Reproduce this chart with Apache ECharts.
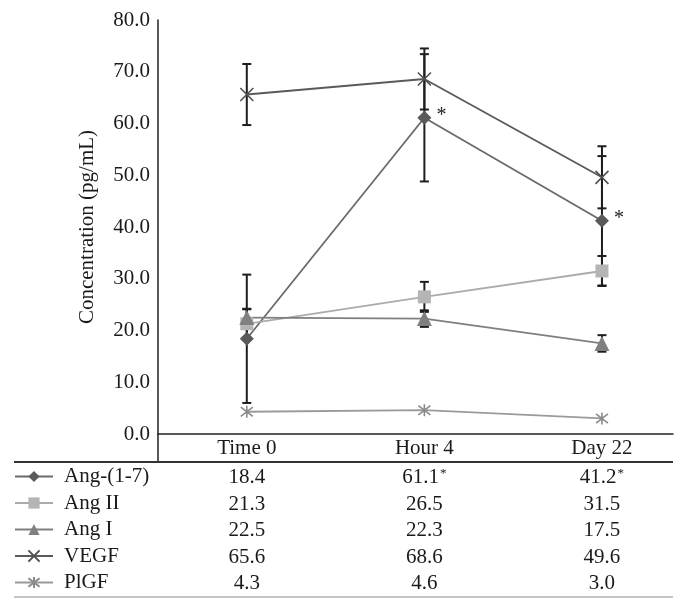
<!DOCTYPE html>
<html>
<head>
<meta charset="utf-8">
<style>
  html, body { margin: 0; padding: 0; background: #fff; }
  #chart { width: 687px; height: 611px; }
</style>
<script src="https://cdn.jsdelivr.net/npm/echarts@6/dist/echarts.min.js"></script>
</head>
<body>
<div id="chart"></div>
<script>
// 数据
const categories = ['Time 0', 'Hour 4', 'Day 22'];
const seriesNames = ['Ang-(1-7)', 'Ang II', 'Ang I', 'VEGF', 'PlGF'];
const angOneSeven = [18.4, 61.1, 41.2];
const angTwo = [21.3, 26.5, 31.5];
const angOne = [22.5, 22.3, 17.5];
const vegf = [65.6, 68.6, 49.6];
const plgf = [4.3, 4.6, 3.0];
// 误差
const angOneSevenErr = [12.4, 12.3, 12.5];
const angTwoErr = [2.9, 2.9, 2.9];
const angOneErr = [1.6, 1.6, 1.6];
const vegfErr = [5.9, 5.9, 6.0];
const plgfErr = [0, 0, 0];
// 显著性标记
const significant = [false, true, true];
const yTicks = [0, 10, 20, 30, 40, 50, 60, 70, 80];

const font = "'Liberation Serif', 'DejaVu Serif', serif";
const fontSize = 21;
const textColor = '#1a1a1a';

const allValues = [angOneSeven, angTwo, angOne, vegf, plgf];
const allErrors = [angOneSevenErr, angTwoErr, angOneErr, vegfErr, plgfErr];

const styles = [
  { symbol: 'diamond', size: 14, color: '#5a5a5a', line: '#6a6a6a' },
  { symbol: 'rect', size: 13, color: '#b5b5b5', line: '#ababab' },
  { symbol: 'triangle', size: 15, color: '#808080', line: '#7f7f7f' },
  { symbol: 'path://M0,0L10,10M10,0L0,10', size: 13, color: '#505050', line: '#5a5a5a' },
  { symbol: 'path://M0,0L10,10M10,0L0,10M5,-1.5L5,11.5', size: 12, color: '#8a8a8a', line: '#9a9a9a' }
];

const myChart = echarts.init(document.getElementById('chart'));

// 折线系列
const lineSeries = seriesNames.map(function (name, k) {
  const st = styles[k];
  const s = {
    name: name,
    type: 'line',
    xAxisIndex: 0,
    yAxisIndex: 0,
    z: 3,
    symbol: st.symbol,
    symbolSize: st.size,
    itemStyle: { color: st.color, borderColor: st.color, borderWidth: k >= 3 ? 1.6 : 0 },
    lineStyle: { color: st.line, width: 1.8 },
    data: allValues[k].map(function (v, i) { return [i, v]; })
  };
  if (k === 0) {
    s.label = {
      show: true,
      position: 'right',
      distance: 5,
      offset: [0, -2],
      fontFamily: font,
      fontSize: 20,
      color: '#222',
      formatter: function (p) { return significant[p.dataIndex] ? '*' : ''; }
    };
  }
  return s;
});

// 误差线数据
const errorData = [];
allValues.forEach(function (vals, k) {
  vals.forEach(function (v, i) {
    const e = allErrors[k][i];
    if (e > 0) errorData.push([i, v - e, v + e]);
  });
});

const errorSeries = {
  type: 'custom',
  xAxisIndex: 0,
  yAxisIndex: 0,
  z: 1,
  silent: true,
  renderItem: function (params, api) {
    const lo = api.coord([api.value(0), api.value(1)]);
    const hi = api.coord([api.value(0), api.value(2)]);
    const w = 4.5;
    const style = { stroke: '#1e1e1e', lineWidth: 2 };
    return {
      type: 'group',
      children: [
        { type: 'line', shape: { x1: lo[0], y1: lo[1], x2: hi[0], y2: hi[1] }, style: style },
        { type: 'line', shape: { x1: lo[0] - w, y1: lo[1], x2: lo[0] + w, y2: lo[1] }, style: style },
        { type: 'line', shape: { x1: hi[0] - w, y1: hi[1], x2: hi[0] + w, y2: hi[1] }, style: style }
      ]
    };
  },
  data: errorData
};

// 表格行（用额外的 x 轴来放数值）
const headerCenter = 448;
const rowCenters = [477.5, 504, 530.5, 557, 583.5];

const baseX = {
  type: 'value',
  gridIndex: 0,
  position: 'bottom',
  min: -0.5,
  max: 2.4,
  splitLine: { show: false },
  axisTick: { show: false }
};

const xAxes = [Object.assign({}, baseX, {
  axisLine: { show: true, onZero: false, lineStyle: { color: '#222', width: 1.5 } },
  axisLabel: {
    customValues: [0, 1, 2],
    margin: 4,
    fontFamily: font,
    fontSize: fontSize,
    lineHeight: 20,
    color: textColor,
    formatter: function (v) { return categories[Math.round(v)]; }
  }
})];

allValues.forEach(function (vals, k) {
  xAxes.push(Object.assign({}, baseX, {
    offset: rowCenters[k] - headerCenter,
    axisLine: { show: false, onZero: false },
    axisLabel: {
      customValues: [0, 1, 2],
      margin: 4,
      fontFamily: font,
      fontSize: fontSize,
      lineHeight: 20,
      color: textColor,
      formatter: function (v) {
        const i = Math.round(v);
        const txt = vals[i].toFixed(1);
        return (k === 0 && significant[i]) ? txt + '{sup|*}' : txt;
      },
      rich: {
        sup: { fontFamily: font, fontSize: 13, verticalAlign: 'top', lineHeight: 20, padding: [0, 0, 10, 1], color: textColor }
      }
    }
  }));
});

const option = {
  animation: false,
  backgroundColor: '#fff',
  grid: { left: 158, right: 14, top: 20, bottom: 177 },
  legend: {
    data: seriesNames,
    orient: 'vertical',
    left: 14,
    top: 466,
    padding: 0,
    itemWidth: 38,
    itemHeight: 14,
    itemGap: 5.5,
    selectedMode: false,
    textStyle: { fontFamily: font, fontSize: fontSize, lineHeight: 20, color: textColor, padding: [0, 0, 0, 6] }
  },
  xAxis: xAxes,
  yAxis: {
    type: 'value',
    min: yTicks[0],
    max: yTicks[yTicks.length - 1],
    interval: yTicks[1] - yTicks[0],
    name: 'Concentration (pg/mL)',
    nameLocation: 'middle',
    nameGap: 60,
    nameTextStyle: { fontFamily: font, fontSize: fontSize, color: textColor },
    axisLine: { show: true, onZero: false, lineStyle: { color: '#222', width: 1.5 } },
    axisTick: { show: false },
    splitLine: { show: false },
    axisLabel: {
      margin: 8,
      fontFamily: font,
      fontSize: fontSize,
      color: textColor,
      formatter: function (v) { return v.toFixed(1); }
    }
  },
  graphic: [
    { type: 'line', shape: { x1: 158, y1: 434, x2: 158, y2: 462 }, style: { stroke: '#222', lineWidth: 1.5 } },
    { type: 'line', shape: { x1: 14, y1: 462, x2: 673, y2: 462 }, style: { stroke: '#333', lineWidth: 2 } },
    { type: 'line', shape: { x1: 14, y1: 597, x2: 673, y2: 597 }, style: { stroke: '#8a8a8a', lineWidth: 1 } }
  ],
  series: lineSeries.concat([errorSeries])
};

myChart.setOption(option);
</script>
</body>
</html>
